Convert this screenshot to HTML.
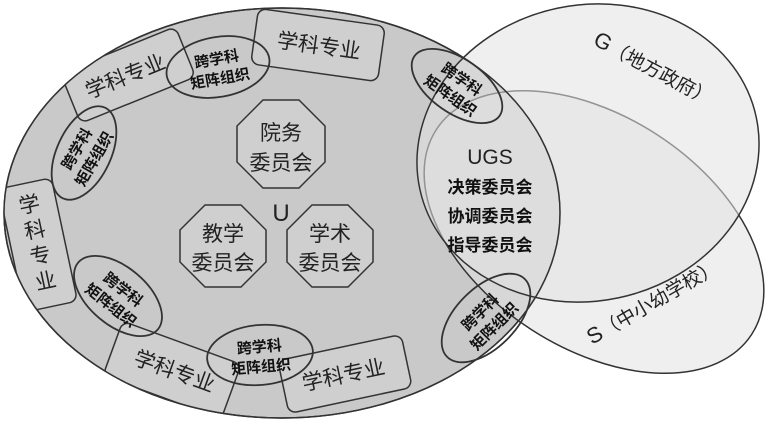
<!DOCTYPE html>
<html><head><meta charset="utf-8"><style>
html,body{margin:0;padding:0;background:#fff}
svg text{font-family:"Liberation Sans","Noto Sans CJK SC",sans-serif}
.b{font-family:"Liberation Serif","Noto Serif CJK SC",serif;font-weight:bold}
</style></head><body>
<svg width="768" height="421" viewBox="0 0 768 421" xmlns="http://www.w3.org/2000/svg">
<defs><clipPath id="cu"><ellipse cx="282" cy="213" rx="278" ry="205"/></clipPath></defs>
<rect width="768" height="421" fill="#fff"/>
<ellipse cx="282" cy="213" rx="278" ry="205" fill="#c9c9c9" stroke="#333" stroke-width="1.5"/>
<ellipse cx="594" cy="232" rx="188" ry="116" transform="rotate(33 594 232)" fill="#e2e2e2" fill-opacity="0.55" stroke="#333" stroke-width="1.5"/>
<ellipse cx="588" cy="153" rx="172" ry="148" transform="rotate(-12 588 153)" fill="#e2e2e2" fill-opacity="0.55" stroke="#333" stroke-width="1.5"/>
<ellipse cx="282" cy="213" rx="278" ry="205" fill="none" stroke="#888" stroke-width="1"/>
<g fill="#cfcfcf" stroke="#333" stroke-width="1.5" clip-path="url(#cu)">
<rect x="-64" y="-28" width="128" height="56" rx="8" transform="translate(318,45) rotate(8)"/>
<rect x="-62" y="-27" width="124" height="54" rx="8" transform="translate(128,75) rotate(-22)"/>
<rect x="-27" y="-63" width="54" height="126" rx="8" transform="translate(38,245) rotate(-12)"/>
<rect x="-63" y="-29" width="126" height="58" rx="8" transform="translate(172,370) rotate(20)"/>
<rect x="-63" y="-27" width="126" height="54" rx="8" transform="translate(345,374) rotate(-12)"/>
</g>
<ellipse cx="282" cy="213" rx="278" ry="205" fill="none" stroke="#333" stroke-width="1.5"/>
<g fill="#222" font-size="21">
<text transform="translate(318,53) rotate(8)" text-anchor="middle">学科专业</text>
<text transform="translate(128,83) rotate(-22)" text-anchor="middle">学科专业</text>
<text transform="translate(172,378) rotate(20)" text-anchor="middle">学科专业</text>
<text transform="translate(345,382) rotate(-12)" text-anchor="middle">学科专业</text>
<g transform="translate(38,245) rotate(-12)" text-anchor="middle"><text y="-34">学</text><text y="-8">科</text><text y="18">专</text><text y="44">业</text></g>
</g>
<g fill="none" stroke="#333" stroke-width="1.8">
<ellipse cx="218" cy="67" rx="52" ry="30" transform="rotate(-10 218 67)"/>
<ellipse cx="84" cy="153" rx="27" ry="50" transform="rotate(25 84 153)"/>
<ellipse cx="118" cy="296" rx="52" ry="29" transform="rotate(40 118 296)"/>
<ellipse cx="260" cy="355" rx="53" ry="30" transform="rotate(-5 260 355)"/>
<ellipse cx="457" cy="86" rx="52" ry="27" transform="rotate(35 457 86)"/>
<ellipse cx="486" cy="318" rx="55" ry="30" transform="rotate(-45 486 318)"/>
</g>
<g class="b" font-size="15" fill="#111" text-anchor="middle">
<g transform="translate(218,67) rotate(-10)"><text y="-3">跨学科</text><text y="17">矩阵组织</text></g>
<g transform="translate(84,153) rotate(-60)"><text y="-3">跨学科</text><text y="17">矩阵组织</text></g>
<g transform="translate(118,296) rotate(38)"><text y="-3">跨学科</text><text y="17">矩阵组织</text></g>
<g transform="translate(260,355) rotate(-5)"><text y="-3">跨学科</text><text y="17">矩阵组织</text></g>
<g transform="translate(457,86) rotate(35)"><text y="-3">跨学科</text><text y="17">矩阵组织</text></g>
<g transform="translate(486,318) rotate(-45)"><text y="-3">跨学科</text><text y="17">矩阵组织</text></g>
</g>
<g fill="#cfcfcf" stroke="#333" stroke-width="1.5">
<polygon points="263,100 299,100 325,126 325,162 299,188 263,188 237,162 237,126"/>
<polygon points="205,205 241,205 266,230 266,262 241,287 205,287 180,262 180,230"/>
<polygon points="312,205 348,205 373,230 373,262 348,287 312,287 287,262 287,230"/>
</g>
<g font-size="21" fill="#222" text-anchor="middle">
<text x="281" y="140">院务</text><text x="281" y="170">委员会</text>
<text x="223" y="241">教学</text><text x="223" y="270">委员会</text>
<text x="330" y="241">学术</text><text x="330" y="270">委员会</text>
<text x="281" y="221" font-size="24">U</text>
<text x="490" y="164" font-size="21">UGS</text>
</g>
<g class="b" font-size="17" fill="#111" text-anchor="middle">
<text x="490" y="193">决策委员会</text><text x="490" y="222">协调委员会</text><text x="490" y="251">指导委员会</text>
</g>
<g font-size="22" fill="#222">
<text transform="translate(592,44) rotate(28)">G<tspan font-size="19">（地方政府）</tspan></text>
<text transform="translate(592,345) rotate(-30)">S<tspan font-size="19">（中小幼学校）</tspan></text>
</g>
</svg>
</body></html>
